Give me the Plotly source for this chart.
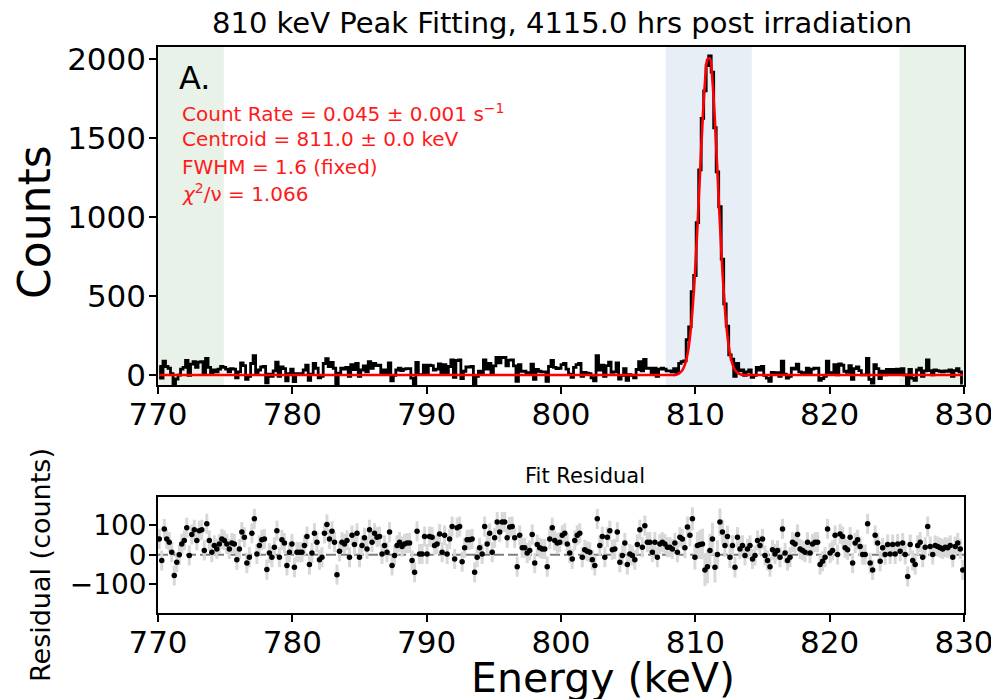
import numpy as np
import plotly.graph_objects as go

# ---------------- data ----------------
E_MIN, E_MAX = 770.0, 830.0

# residual (counts - fit), 770 -> 800 keV
resid_left = [54, -19, 88, 54, 43, 9, -70, -25, 0, 37, 49, 92, -2, 69, 85, 49, 82, 85, 15, 105,
              49, 9, 32, 20, 37, 54, 49, 37, 20, 40, 37, -17, 20, 77, 60, -28, -8, 73, 122, 3,
              32, 51, 54, -50, 6, -8, 26, 82, -8, 51, 40, -36, 9, 37, -42, 9, 9, 9, 32, 62,
              -33, 6, 73, 43, -17, -8, 73, 103, 54, 80, 43, -67, 12, 43, 37, 49, -8, 66, 35, 73,
              -8, 32, 58, 20, 85, 43, 73, 60, 62, 3, 32, 9, 77, -36, -2, 32, 43, 28, 37, 40,
              40, -19, -59, 80, 3, 3, 62, 3, 62, 60, 32, 37, 71, 9, 66, 3, 54, 96, -14, 92,
              96, -23, 24, 51, 51, 54, -59, -8, 24, 3, 96, 37, 73, 9, 58, 111, 77, 111, 111, 58,
              94, 96, 58, -40, 66, 24, 24, 6, 15, 69, -28, 35, 24, 20, 20, -40, 54, 92, 49, 40]
# 800 -> 830 keV
resid_right = [43, 66, 73, 37, 6, -14, 49, 66, 73, -8, 17, 12, 9, -17, -36, 122, 32, 62, -8, 60,
               82, 17, 20, 77, -25, -2, 40, -33, 3, -2, -17, 35, 85, 26, 99, 43, 43, 9, 43, -8,
               37, 43, 37, 26, 26, 20, 40, 9, 60, 54, 24, 94, 66, 122, -8, 32, 35, 37, -51, -40,
               15, 54, -42, 1, 111, 77, 32, 62, -8, 32, -42, 60, 20, 32, -2, 20, 32, -14, -2, 49,
               32, 54, -2, -19, -40, 17, 3, 15, -8, 88, 6, -19, -8, 43, 37, 69, 20, 15, 9, 43,
               6, 37, 43, 43, -33, -22, -8, 88, 6, 15, 66, 1, 71, 62, 24, 17, 60, -28, 40, 51,
               28, 1, 1, 105, -28, -51, 66, 40, -22, 24, 1, 35, 3, 35, 3, 37, 12, 40, 1, -73,
               35, -19, -33, 32, 43, -8, 26, 96, 28, 1, 32, 28, 24, 20, 26, 24, 32, -8, 28, 40,
               20, -51]

# fitted peak model at the bins around the 811 keV centroid (baseline ~0 elsewhere)
PEAK_START_BIN = 207
fit_peak = [5, 14, 31, 66, 130, 239, 406, 638, 932, 1264, 1587, 1849, 1999, 2004, 1863, 1607,
            1285, 954, 656, 419, 248, 136, 69, 33, 14, 6]

# statistical uncertainty of residuals
err_base = 34
err_peak = [34, 34, 34, 35, 36, 37, 39, 42, 45, 49, 52, 55, 56, 56, 55, 52, 49, 46, 42, 39,
            37, 36, 35, 35, 34, 34]

# shaded regions (keV)
bkg_left = (770.0, 774.9)
peak_region = (807.8, 814.2)
bkg_right = (825.2, 830.0)

x_ticks = [770, 780, 790, 800, 810, 820, 830]
y_ticks_top = [0, 500, 1000, 1500, 2000]
y_ticks_res = [-100, 0, 100]

title_text = "810 keV Peak Fitting, 4115.0 hrs post irradiation"
info_lines = ["Count Rate = 0.045 ± 0.001 s<sup>−1</sup>",
              "Centroid = 811.0 ± 0.0 keV",
              "FWHM = 1.6 (fixed)",
              "<i>χ</i><sup>2</sup>/ν = 1.066"]

# ---------------- build arrays ----------------
resid = np.array(resid_left + resid_right, dtype=float)
N = len(resid)
width = (E_MAX - E_MIN) / N
energy = E_MIN + (np.arange(N) + 0.5) * width
fit = np.zeros(N)
fit[PEAK_START_BIN:PEAK_START_BIN + len(fit_peak)] = fit_peak
counts = fit + resid
err = np.full(N, float(err_base))
err[PEAK_START_BIN:PEAK_START_BIN + len(err_peak)] = err_peak

W, H = 999, 699
OFF = 8  # page body margin: the figure is drawn 8 px right/down in the window
def px(x): return (x - OFF) / W
def py(y): return 1 - (y - OFF) / H

FONT = "DejaVu Sans"

fig = go.Figure()
fig.add_trace(go.Scatter(x=energy, y=counts, mode="lines", line=dict(color="black", width=2.8, shape="hvh"),
                         xaxis="x", yaxis="y", showlegend=False))
fig.add_trace(go.Scatter(x=energy, y=fit, mode="lines", line=dict(color="red", width=2.6, shape="spline", smoothing=0.8),
                         xaxis="x", yaxis="y", showlegend=False))
fig.add_trace(go.Scatter(x=energy, y=resid, mode="markers",
                         marker=dict(color="black", size=5.5),
                         error_y=dict(type="data", array=err, color="#d8d8d8", thickness=3, width=0),
                         xaxis="x2", yaxis="y2", showlegend=False))

shapes = []
for (a, b), col in [(bkg_left, "#e8f2e8"), (peak_region, "#e7eef5"), (bkg_right, "#e8f2e8")]:
    shapes.append(dict(type="rect", xref="x", yref="y domain", x0=a, x1=b, y0=0, y1=1,
                       fillcolor=col, line=dict(width=0), layer="below"))
shapes.append(dict(type="line", xref="x2 domain", yref="y2", x0=0, x1=1, y0=0, y1=0,
                   line=dict(color="#7f7f7f", width=2, dash="10px,4px"), layer="below"))

axis_common = dict(showline=True, mirror=True, linecolor="black", linewidth=1.5,
                   ticks="outside", ticklen=7, tickwidth=1.5, tickcolor="black",
                   showgrid=False, zeroline=False, automargin=False)
tick_big = dict(family=FONT, size=31, color="black")
tick_res = dict(family=FONT, size=28, color="black")

xdom = [px(158), px(964)]
fig.update_layout(
    width=W, height=H, margin=dict(l=0, r=0, t=0, b=0, autoexpand=False),
    paper_bgcolor="white", plot_bgcolor="white",
    font=dict(family=FONT, color="black"),
    xaxis=dict(domain=xdom, range=[E_MIN, E_MAX], anchor="y", tickvals=x_ticks,
               ticklabelstandoff=-6, tickfont=tick_big, **axis_common),
    yaxis=dict(domain=[py(385), py(47)], range=[-63, 2076], anchor="x", tickvals=y_ticks_top,
               ticklabelstandoff=-3, tickfont=tick_big, **axis_common),
    xaxis2=dict(domain=xdom, range=[E_MIN, E_MAX], anchor="y2", tickvals=x_ticks,
                ticklabelstandoff=-6, tickfont=tick_big, **axis_common),
    yaxis2=dict(domain=[py(613), py(497)], range=[-197, 196], anchor="x2", tickvals=y_ticks_res,
                ticklabelstandoff=-3, tickfont=tick_res, **axis_common),
    shapes=shapes,
)

ann = []
ann.append(dict(text=title_text, x=px(562), y=py(23), xref="paper", yref="paper",
                showarrow=False, xanchor="center", yanchor="middle",
                font=dict(family=FONT, size=29, color="black")))
ann.append(dict(text="Counts", x=px(34), y=py(222), xref="paper", yref="paper",
                showarrow=False, textangle=-90, xanchor="center", yanchor="middle",
                font=dict(family=FONT, size=44, color="black")))
ann.append(dict(text="Fit Residual", x=px(585), y=py(476), xref="paper", yref="paper",
                showarrow=False, xanchor="center", yanchor="middle",
                font=dict(family=FONT, size=21, color="black")))
ann.append(dict(text="Residual (counts)", x=px(40), y=py(565), xref="paper", yref="paper",
                showarrow=False, textangle=-90, xanchor="center", yanchor="middle",
                font=dict(family=FONT, size=27, color="black")))
ann.append(dict(text="Energy (keV)", x=px(603), y=py(678), xref="paper", yref="paper",
                showarrow=False, xanchor="center", yanchor="middle",
                font=dict(family=FONT, size=41, color="black")))
ann.append(dict(text="A.", x=px(177), y=py(78), xref="paper", yref="paper",
                showarrow=False, xanchor="left", yanchor="middle",
                font=dict(family=FONT, size=32, color="black")))
for line, yy in zip(info_lines, [113, 139, 167, 193]):
    ann.append(dict(text=line, x=px(180), y=py(yy), xref="paper", yref="paper",
                    showarrow=False, xanchor="left", yanchor="middle",
                    font=dict(family=FONT, size=20, color="#ff1a1a")))
fig.update_layout(annotations=ann)

fig.write_html("out.html")
